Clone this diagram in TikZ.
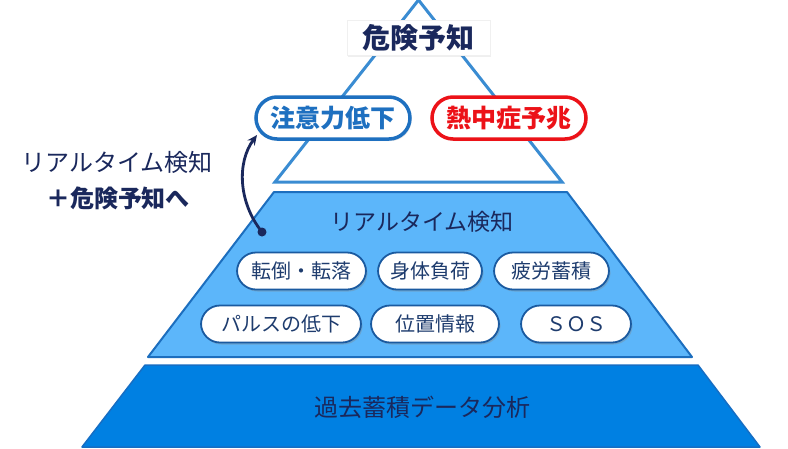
\documentclass[tikz,border=0pt]{standalone}
\usepackage{fontspec}
\setmainfont{Noto Sans CJK JP}
\usetikzlibrary{shadows,arrows.meta}
\definecolor{triline}{RGB}{58,140,210}
\definecolor{midfill}{RGB}{92,182,250}
\definecolor{midline}{RGB}{28,110,190}
\definecolor{botfill}{RGB}{0,128,226}
\definecolor{botline}{RGB}{22,110,196}
\definecolor{navy}{RGB}{26,40,92}
\definecolor{pillblue}{RGB}{30,112,192}
\definecolor{pillred}{RGB}{236,18,24}
\definecolor{smallline}{RGB}{26,90,160}
\definecolor{smalltext}{RGB}{30,60,110}
\tikzset{
  toppill/.style={draw=#1, text=#1, fill=white, line width=3.5pt, rounded corners=21pt,
    minimum height=42pt, minimum width=154pt, inner sep=0pt, font=\fontsize{25}{25}\selectfont\bfseries,
    drop shadow={opacity=0.2, shadow xshift=1.5pt, shadow yshift=-2pt}},
  smallpill/.style={draw=smallline, fill=white, line width=1.8pt, rounded corners=19pt,
    minimum height=37pt, inner sep=0pt, text=smalltext, font=\fontsize{20}{20}\selectfont,
    drop shadow={opacity=0.35, shadow xshift=1.5pt, shadow yshift=-2pt}},
  lbl/.style={inner sep=0pt, text=navy}
}
\begin{document}
\begin{tikzpicture}[x=1pt,y=-1pt]
\useasboundingbox[fill=white] (0,0) rectangle (788,448);
% bottom trapezoid
\draw[fill=botfill, draw=botline, line width=1.5pt, line join=round]
  (145,365) -- (698,365) -- (760,447) -- (82,447) -- cycle;
% middle trapezoid
\draw[fill=midfill, draw=midline, line width=2pt, line join=round]
  (274,192) -- (567,192) -- (692,357) -- (148,357) -- cycle;
% top triangle
\draw[draw=triline, line width=3pt, line join=miter]
  (418.5,0) -- (562,182) -- (275,182) -- cycle;
% title
\node[fill=white, draw=gray!12, minimum width=143pt, minimum height=35pt, inner sep=0pt,
  text=navy, font=\fontsize{28}{28}\selectfont\bfseries,
  drop shadow={opacity=0.12, shadow xshift=1pt, shadow yshift=-1.5pt}] (title) at (418.5,38) {危険予知};
% top pills
\node[toppill=pillblue] (att) at (333,118) {注意力低下};
\node[toppill=pillred] (heat) at (509,118) {熱中症予兆};
% left text
\node[lbl, font=\fontsize{24}{24}\selectfont] (lt1) at (117,162) {リアルタイム検知};
\node[lbl, font=\fontsize{24}{24}\selectfont\bfseries] (lt2) at (118,198) {＋危険予知へ};
% middle title
\node[lbl, font=\fontsize{23}{23}\selectfont] (rt) at (422,222) {リアルタイム検知};
% small pills
\node[smallpill, minimum width=129pt] (p1) at (301.5,271) {転倒・転落};
\node[smallpill, minimum width=104pt] (p2) at (430,271) {身体負荷};
\node[smallpill, minimum width=115pt] (p3) at (551.5,271) {疲労蓄積};
\node[smallpill, minimum width=160pt] (p4) at (281,324) {パルスの低下};
\node[smallpill, minimum width=128pt] (p5) at (435,324) {位置情報};
\node[smallpill, minimum width=110pt] (p6) at (576,324) {ＳＯＳ};
% bottom text
\node[lbl, font=\fontsize{24}{24}\selectfont] (bt) at (422,407) {過去蓄積データ分析};
% arrow
\node[circle, fill=navy, inner sep=0pt, minimum size=9pt] (dot) at (262,232) {};
\coordinate (tip) at (257,135);
\draw[navy, line width=2.8pt, -{Stealth[length=10pt,width=9pt]}]
  (dot.center) .. controls (238,202) and (237,162) .. (tip);
\end{tikzpicture}
\end{document}
